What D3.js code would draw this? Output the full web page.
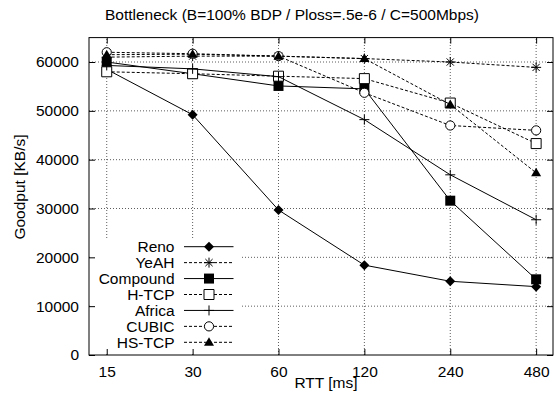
<!DOCTYPE html>
<html>
<head>
<meta charset="utf-8">
<script src="https://cdn.jsdelivr.net/npm/d3@7"></script>
<style>
body { margin: 0; background: #fff; }
text { font-family: "Liberation Sans", Arial, sans-serif; font-size: 15.5px; fill: #000; }
</style>
</head>
<body>
<svg id="chart" width="560" height="399"></svg>
<script>
// data
var rtt = [15, 30, 60, 120, 240, 480];
var yTicks = [0, 10000, 20000, 30000, 40000, 50000, 60000];

var reno     = [58500, 49200, 29700, 18400, 15100, 14000];
var yeah     = [61000, 61200, 61200, 60700, 60000, 58900];
var compound = [60000, 57600, 55100, 54500, 31600, 15500];
var htcp     = [58000, 57600, 57100, 56600, 51600, 43300];
var africa   = [59300, 58600, 57000, 48200, 36900, 27700];
var cubic    = [62000, 61700, 61200, 53700, 47000, 46000];
var hstcp    = [61500, 61600, 61200, 60700, 51300, 37300];

var names  = ["Reno", "YeAH", "Compound", "H-TCP", "Africa", "CUBIC", "HS-TCP"];
var values = [reno, yeah, compound, htcp, africa, cubic, hstcp];
var dashed = [false, true, false, true, false, true, true];
var marks  = ["diamond", "star", "fsquare", "osquare", "plus", "circle", "triangle"];

var svg = d3.select("#chart");

var xScale = d3.scaleLog()
    .domain([13, 550])
    .range([89, 553]);

var yScale = d3.scaleLinear()
    .domain([0, 65000])
    .range([355, 37.6]);

// grid
var grid = svg.append("g");
grid.selectAll("line.gx")
    .data(rtt)
    .enter().append("line")
    .attr("x1", function(d) { return xScale(d); })
    .attr("x2", function(d) { return xScale(d); })
    .attr("y1", yScale(0))
    .attr("y2", yScale(65000))
    .attr("stroke", "#333")
    .attr("stroke-width", 0.8)
    .attr("stroke-dasharray", "1,2");
grid.selectAll("line.gy")
    .data(yTicks.slice(1))
    .enter().append("line")
    .attr("x1", xScale(13))
    .attr("x2", xScale(550))
    .attr("y1", function(d) { return yScale(d); })
    .attr("y2", function(d) { return yScale(d); })
    .attr("stroke", "#333")
    .attr("stroke-width", 0.8)
    .attr("stroke-dasharray", "1,2");

// key background hides the grid
svg.append("rect")
    .attr("x", 90).attr("y", 239)
    .attr("width", 152).attr("height", 115)
    .attr("fill", "#fff");

var line = d3.line()
    .x(function(d, i) { return xScale(rtt[i]); })
    .y(function(d) { return yScale(d); });

var drawMark = function(g, type, x, y) {
    var p;
    if (type == "diamond") {
        p = g.append("path").attr("d", "M0,-5L5,0L0,5L-5,0Z").attr("fill", "#000");
    } else if (type == "fsquare") {
        p = g.append("path").attr("d", "M-5,-5H5V5H-5Z").attr("fill", "#000");
    } else if (type == "osquare") {
        p = g.append("path").attr("d", "M-5,-5H5V5H-5Z").attr("fill", "#fff").attr("stroke", "#000");
    } else if (type == "circle") {
        p = g.append("circle").attr("r", 4.6).attr("fill", "#fff").attr("stroke", "#000");
    } else if (type == "triangle") {
        p = g.append("path").attr("d", "M0,-5L5,3.5H-5Z").attr("fill", "#000");
    } else if (type == "plus") {
        p = g.append("path").attr("d", "M-5,0H5M0,-5V5").attr("stroke", "#000").attr("fill", "none");
    } else {
        p = g.append("path").attr("d", "M-5,0H5M0,-5V5M-3.6,-3.6L3.6,3.6M-3.6,3.6L3.6,-3.6").attr("stroke", "#000").attr("fill", "none");
    }
    p.attr("transform", "translate(" + x + "," + y + ")");
};

// series
values.forEach(function(vals, k) {
    var g = svg.append("g");
    g.append("path")
        .datum(vals)
        .attr("d", line)
        .attr("fill", "none")
        .attr("stroke", "#000")
        .attr("stroke-width", 1)
        .attr("stroke-dasharray", dashed[k] ? "3,2" : null);
    vals.forEach(function(v, i) {
        drawMark(g, marks[k], xScale(rtt[i]), yScale(v));
    });
});

// key
var legendY = d3.scaleLinear().domain([0, 6]).range([246.7, 342.3]);
names.forEach(function(n, k) {
    var ly = legendY(k);
    var g = svg.append("g");
    g.append("text")
        .attr("x", 174.5).attr("y", ly + 5.5)
        .attr("text-anchor", "end")
        .text(n);
    g.append("line")
        .attr("x1", 184).attr("x2", 233.5)
        .attr("y1", ly).attr("y2", ly)
        .attr("stroke", "#000")
        .attr("stroke-dasharray", dashed[k] ? "3,2" : null);
    drawMark(g, marks[k], 209, ly);
});

// axes
var xAxis = d3.axisBottom(xScale).tickValues(rtt).tickFormat(d3.format("d")).tickSizeInner(-6).tickSizeOuter(0).tickPadding(11);
var xAxisTop = d3.axisTop(xScale).tickValues(rtt).tickFormat("").tickSizeInner(-6).tickSizeOuter(0);
var yAxis = d3.axisLeft(yScale).tickValues(yTicks).tickFormat(d3.format("d")).tickSizeInner(-6).tickSizeOuter(0).tickPadding(10);
var yAxisRight = d3.axisRight(yScale).tickValues(yTicks).tickFormat("").tickSizeInner(-6).tickSizeOuter(0);

var styleAxis = function(g) {
    g.select(".domain").remove();
    g.selectAll("line").attr("stroke", "#000");
    g.selectAll("text").attr("font-family", null).attr("font-size", null).style("fill", "#000");
};

svg.append("g").attr("transform", "translate(0,355)").call(xAxis).call(styleAxis);
svg.append("g").attr("transform", "translate(0,37.6)").call(xAxisTop).call(styleAxis);
svg.append("g").attr("transform", "translate(89,0)").call(yAxis).call(styleAxis);
svg.append("g").attr("transform", "translate(553,0)").call(yAxisRight).call(styleAxis);

svg.append("rect")
    .attr("x", 89).attr("y", 37.6)
    .attr("width", 464).attr("height", 355 - 37.6)
    .attr("fill", "none")
    .attr("stroke", "#000");

// labels
svg.append("text")
    .attr("x", 292).attr("y", 20)
    .attr("text-anchor", "middle")
    .attr("font-size", "15px")
    .text("Bottleneck (B=100% BDP / Ploss=.5e-6 / C=500Mbps)");

svg.append("text")
    .attr("x", 326).attr("y", 388)
    .attr("text-anchor", "middle")
    .text("RTT [ms]");

svg.append("text")
    .attr("transform", "translate(25,187) rotate(-90)")
    .attr("text-anchor", "middle")
    .text("Goodput [KB/s]");
</script>
</body>
</html>
